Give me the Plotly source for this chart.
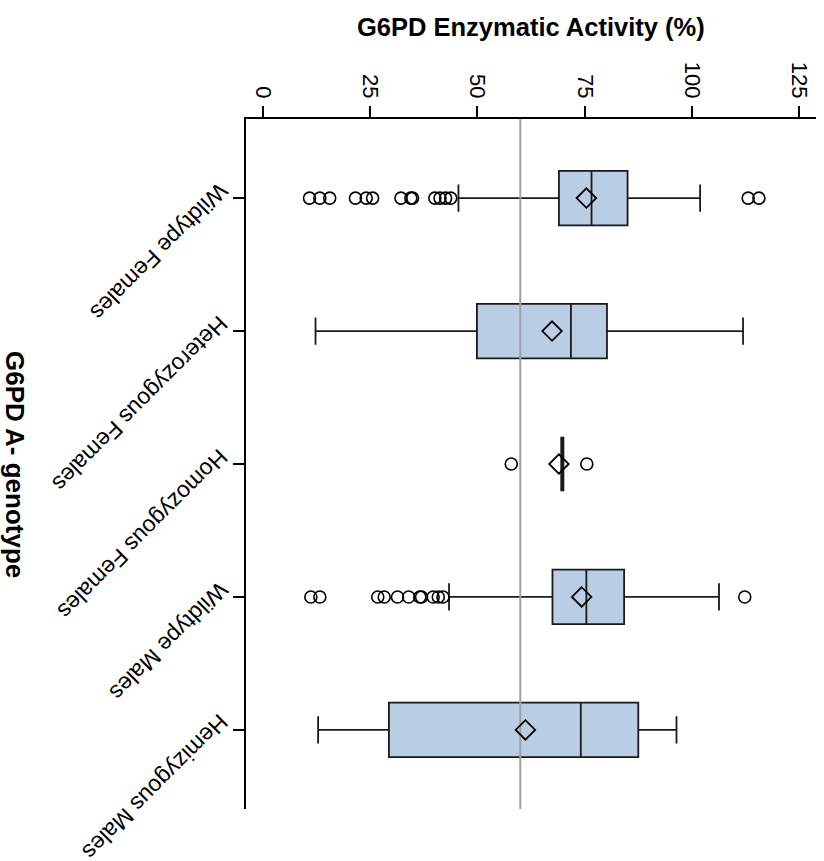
import plotly.graph_objects as go

# ---------------- data ----------------
CATEGORIES = ["Wildtype Females", "Heterozygous Females", "Homozygous Females",
              "Wildtype Males", "Hemizygous Males"]
POSITIONS = [1, 2, 3, 4, 5]

Q1 = [69.0, 49.9, 69.8, 67.5, 29.4]
MEDIAN = [76.6, 71.8, 69.8, 75.4, 74.1]
Q3 = [85.0, 80.2, 69.8, 84.2, 87.5]
LOWER_WHISKER = [45.6, 12.3, 69.8, 43.4, 12.9]
UPPER_WHISKER = [101.9, 111.9, 69.8, 106.3, 96.4]
MEANS = [75.4, 67.4, 69.0, 74.3, 61.2]

OUTLIERS_WILDTYPE_F = [10.9, 13.3, 15.6, 21.6, 24.1, 25.6, 32.2, 34.5, 34.9,
                       40.1, 41.3, 42.6, 43.8, 113.1, 115.6]
OUTLIERS_HETEROZYGOUS_F = []
OUTLIERS_HOMOZYGOUS_F = [57.9, 75.5]
OUTLIERS_WILDTYPE_M = [11.2, 13.3, 26.8, 28.3, 31.4, 34.0, 36.6, 37.0, 39.7,
                       40.9, 42.0, 112.3]
OUTLIERS_HEMIZYGOUS_M = []
OUTLIERS = [OUTLIERS_WILDTYPE_F, OUTLIERS_HETEROZYGOUS_F, OUTLIERS_HOMOZYGOUS_F,
            OUTLIERS_WILDTYPE_M, OUTLIERS_HEMIZYGOUS_M]

REFERENCE_VALUE = 60
X_TICKS = [0, 25, 50, 75, 100, 125]
X_TICK_LABELS = ["0", "25", "50", "75", "100", "125"]

X_TITLE = "G6PD Enzymatic Activity (%)"
Y_TITLE = "G6PD A- genotype"

# ---------------- style ----------------
FONT = "Liberation Sans, Arial, Helvetica, sans-serif"
BOX_FILL = "#B9CDE5"
W, H = 824, 861
# plot area in page pixels: x 246..816, y 119..809
L, T = 246, 119
R = W - 816
B = H - 809
X_RANGE = [-3.9, 128.9]
Y_RANGE = [5.595, 0.405]
PW = W - L - R
PH = H - T - B

fig = go.Figure()

for i, cat in enumerate(CATEGORIES):
    lw = 4 if Q1[i] == Q3[i] else 1.8
    fig.add_trace(go.Box(
        orientation="h",
        y=[POSITIONS[i]],
        q1=[Q1[i]], median=[MEDIAN[i]], q3=[Q3[i]],
        lowerfence=[LOWER_WHISKER[i]], upperfence=[UPPER_WHISKER[i]],
        width=0.41, whiskerwidth=0.5,
        fillcolor=BOX_FILL,
        line=dict(color="#1a1a1a", width=lw),
        boxpoints=False,
        hoverinfo="skip",
        showlegend=False,
        name=cat,
    ))

# reference line (drawn over boxes)
fig.add_trace(go.Scatter(
    x=[REFERENCE_VALUE, REFERENCE_VALUE], y=[Y_RANGE[1], Y_RANGE[0]],
    mode="lines", line=dict(color="#a0a0a0", width=2),
    showlegend=False, hoverinfo="skip", cliponaxis=False,
))

# outliers
ox, oy = [], []
for i, vals in enumerate(OUTLIERS):
    ox += vals
    oy += [POSITIONS[i]] * len(vals)
fig.add_trace(go.Scatter(
    x=ox, y=oy, mode="markers",
    marker=dict(symbol="circle-open", size=12, color="black",
                line=dict(width=1.6, color="black")),
    showlegend=False, hoverinfo="skip",
))

# means
fig.add_trace(go.Scatter(
    x=MEANS, y=POSITIONS, mode="markers",
    marker=dict(symbol="diamond-open", size=15, color="black",
                line=dict(width=1.8, color="black")),
    showlegend=False, hoverinfo="skip",
))

annotations = []
for i, cat in enumerate(CATEGORIES):
    annotations.append(dict(
        text=cat, xref="paper", yref="y",
        x=-10 / PW, y=POSITIONS[i],
        xanchor="right", yanchor="top", yshift=23,
        textangle=135, showarrow=False,
        font=dict(family=FONT, size=23, color="black"),
    ))

annotations.append(dict(
    text="<b>" + X_TITLE + "</b>", xref="paper", yref="paper",
    x=0.5, y=1 + (T - 27) / PH, xanchor="center", yanchor="middle",
    showarrow=False, font=dict(family=FONT, size=25.5, color="black"),
))
annotations.append(dict(
    text="<b>" + Y_TITLE + "</b>", xref="paper", yref="paper",
    x=(15 - L) / PW, y=0.5, xanchor="center", yanchor="middle",
    textangle=90, showarrow=False,
    font=dict(family=FONT, size=26, color="black"),
))

fig.update_layout(
    width=W, height=H,
    margin=dict(l=L, r=R, t=T, b=B, pad=0, autoexpand=False),
    paper_bgcolor="white", plot_bgcolor="white",
    font=dict(family=FONT, color="black"),
    annotations=annotations,
    xaxis=dict(
        side="top", range=X_RANGE, tickvals=X_TICKS, ticktext=X_TICK_LABELS,
        tickangle=90, ticks="outside", ticklen=11, tickwidth=1.8,
        tickcolor="black", tickfont=dict(family=FONT, size=22, color="black"),
        showline=True, linecolor="black", linewidth=1.8,
        showgrid=False, zeroline=False, automargin=False,
    ),
    yaxis=dict(
        range=Y_RANGE, tickvals=POSITIONS, showticklabels=False,
        ticks="outside", ticklen=11, tickwidth=1.8, tickcolor="black",
        showline=True, linecolor="black", linewidth=1.8,
        showgrid=False, zeroline=False, automargin=False,
    ),
)

fig.write_html(
    "out.html",
    config={"displayModeBar": False, "staticPlot": True},
    post_script="document.body.style.margin='0px';document.body.style.overflow='hidden';",
)
